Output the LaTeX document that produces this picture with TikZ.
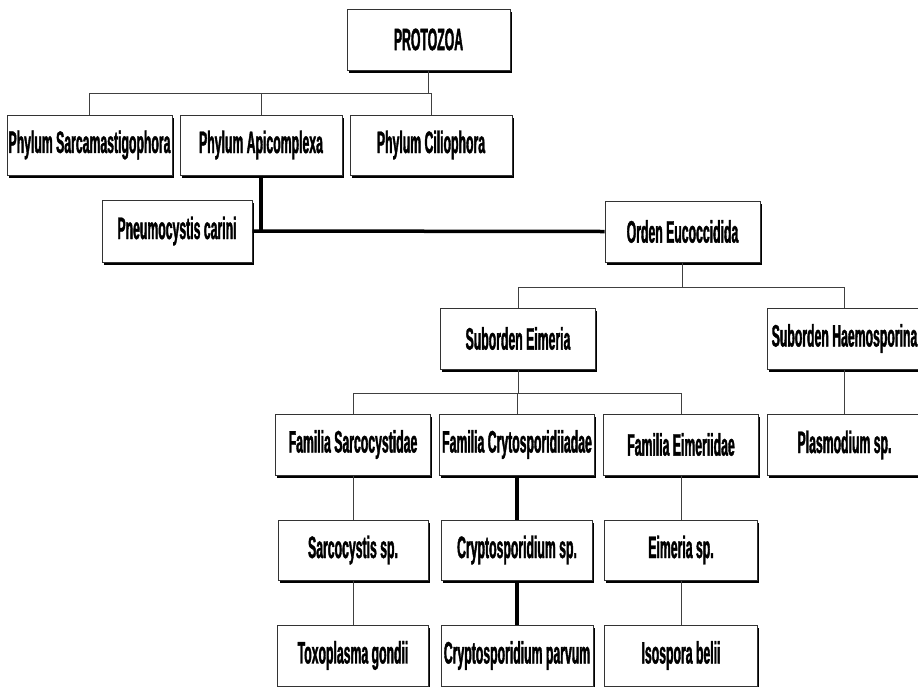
\documentclass[tikz,border=0pt]{standalone}
\usepackage{fontspec}
\newfontfamily\orgfont{Liberation Sans}[FakeStretch=0.395,FakeBold=1.2]
\usetikzlibrary{positioning,shadows}

\begin{document}
\begin{tikzpicture}[x=1pt,y=-1pt,
  box/.style={draw=black!80,line width=1pt,fill=white,
    minimum width=155pt,minimum height=61pt,inner sep=0pt,
    font=\orgfont\bfseries\fontsize{31}{34}\selectfont,
    drop shadow={shadow xshift=1.5pt,shadow yshift=-2.5pt,fill=black,opacity=1}},
  link/.style={draw=black!75,line width=1pt},
  main/.style={draw=black,line width=3.5pt}]
  \useasboundingbox (0,0) rectangle (918,686);
  \clip (0,0) rectangle (918,686);
  % tree boxes
  \node[box,minimum width=163pt] (proto) at (428.5,39.5) {PROTOZOA};
  \node[box,minimum width=165pt,minimum height=60pt] (sarca) at (89.5,145) {Phylum Sarcamastigophora};
  \node[box,minimum width=162pt,minimum height=60pt] (apic) at (261,145) {Phylum Apicomplexa};
  \node[box,minimum width=162pt,minimum height=60pt] (cilio) at (431,145) {Phylum Ciliophora};
  \node[box,minimum width=150pt,minimum height=62pt] (pneumo) at (177,231) {Pneumocystis carini};
  \node[box] (orden) at (682.5,231.5) {Orden Eucoccidida};
  \node[box] (eimer) at (518,338.5) {Suborden Eimeria};
  \node[box] (haemo) at (844.5,338.5) {Suborden Haemosporina};
  \node[box] (sarcoFam) at (353,444.5) {Familia Sarcocystidae};
  \node[box] (cryptoFam) at (517,444.5) {Familia Crytosporidiiadae};
  \node[box] (eimerFam) at (681,444.5) {Familia Eimeriidae};
  \node[box] (plasmo) at (844.5,445) {Plasmodium sp.};
  \node[box,minimum width=150pt,minimum height=60pt] (sarcoSp) at (353,550) {Sarcocystis sp.};
  \node[box,minimum width=151pt,minimum height=60pt] (cryptoSp) at (517,550) {Cryptosporidium sp.};
  \node[box,minimum width=153pt,minimum height=60pt] (eimerSp) at (681,550) {Eimeria sp.};
  \node[box,minimum width=151pt] (toxo) at (353,655.5) {Toxoplasma gondii};
  \node[box,minimum width=152pt] (parvum) at (517,655.5) {Cryptosporidium parvum};
  \node[box,minimum width=153pt] (isos) at (681,655.5) {Isospora belii};
  % connectors
  \draw[link] (proto.south) -- ++(0,23) coordinate (bar1);
  \draw[link] (sarca.north) |- (bar1) -| (cilio.north);
  \draw[link] (apic.north) -- (apic.north |- bar1);
  \draw[main] (apic.south) -- (apic.south |- pneumo.east);
  \draw[main] (pneumo.east) -- (orden.west);
  \draw[link] (orden.south) -- ++(0,25) coordinate (bar2);
  \draw[link] (eimer.north) |- (bar2) -| (haemo.north);
  \draw[link] (eimer.south) -- ++(0,24) coordinate (bar3);
  \draw[link] (sarcoFam.north) |- (bar3) -| (eimerFam.north);
  \draw[link] (cryptoFam.north) -- (cryptoFam.north |- bar3);
  \draw[link] (haemo) -- (plasmo);
  \draw[link] (sarcoFam) -- (sarcoSp) -- (toxo);
  \draw[main] (cryptoFam) -- (cryptoSp) -- (parvum);
  \draw[link] (eimerFam) -- (eimerSp) -- (isos);
\end{tikzpicture}
\end{document}
